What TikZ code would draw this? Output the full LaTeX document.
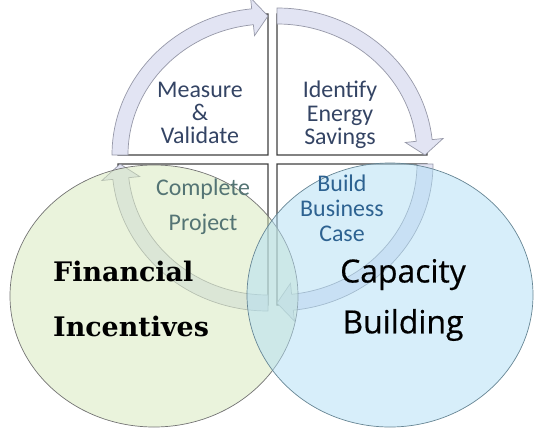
\documentclass[tikz,border=0pt]{standalone}
\usepackage{fontspec}
\setmainfont{Carlito}
\newfontfamily\vennserif{DejaVu Serif}
\newfontfamily\vennsans[FakeBold=0.5]{Open Sans}
\definecolor{stepblue}{RGB}{52,68,100}
\definecolor{bandfill}{RGB}{226,228,243}
\definecolor{bandedge}{RGB}{150,152,168}
\definecolor{fingreen}{RGB}{214,232,186}
\definecolor{capblue}{RGB}{176,222,245}
\definecolor{completegrey}{RGB}{84,116,116}
\definecolor{buildblue}{RGB}{45,98,145}
\tikzset{
  panel/.style={draw=black!75, line width=1.1pt, fill=white},
  band/.style={draw=bandedge, line width=0.7pt, fill=bandfill},
  steptext/.style={align=center, inner sep=0pt, font=\fontsize{24}{23.5}\selectfont},
  venn/.style={line width=0.7pt, fill opacity=0.5},
}
\begin{document}
\begin{tikzpicture}[x=1bp,y=1bp]
        \useasboundingbox (0,0) rectangle (534,429);
        % quadrants of the cycle, each with its arrow
        \foreach \cx/\cy/\s/\b/\t in {268/274/180/96/90, 277/274/90/6/0, 277/265/0/-84/-90, 268/265/-90/-174/-180}{
        \begin{scope}[shift={(\cx,\cy)}]
        \draw[panel] (0,0) -- (\s:150 and 141) arc[start angle=\s, end angle=\t, x radius=150, y radius=141] -- cycle;
        \draw[band] (\s:156 and 147) arc[start angle=\s, end angle=\b, x radius=156, y radius=147]
            -- (\b:167 and 158) -- (\t:148 and 139) -- (\b:129 and 120) -- (\b:140 and 131)
            arc[start angle=\b, end angle=\s, x radius=140, y radius=131] -- cycle;
        \end{scope}
        }
        \node[steptext, text=stepblue] (measure) at (200,316) {Measure\\\&\\Validate};
        \node[steptext, text=stepblue] (identify) at (340,314) {Identify\\Energy\\Savings};
        % venn circles
        \draw[venn, fill=fingreen, draw=black!55] (154,133) ellipse [x radius=144, y radius=131];
        \draw[venn, fill=capblue, draw=black!45!cyan!60!gray] (390,134) ellipse [x radius=143, y radius=132];
        \node[steptext, text=completegrey, font=\fontsize{24}{35}\selectfont] (complete) at (203,222) {Complete\\Project};
        \node[steptext, text=buildblue, font=\fontsize{24}{25}\selectfont] (build) at (342,221) {Build\\Business\\Case};
        \node[align=left, anchor=west, inner sep=0pt, font=\vennserif\bfseries\fontsize{27}{55}\selectfont] (financial) at (53,130) {Financial\\Incentives};
        \node[align=center, inner sep=0pt, font=\vennsans\fontsize{32}{51}\selectfont] (capacity) at (403,129) {Capacity\\Building};
    \end{tikzpicture}
\end{document}
